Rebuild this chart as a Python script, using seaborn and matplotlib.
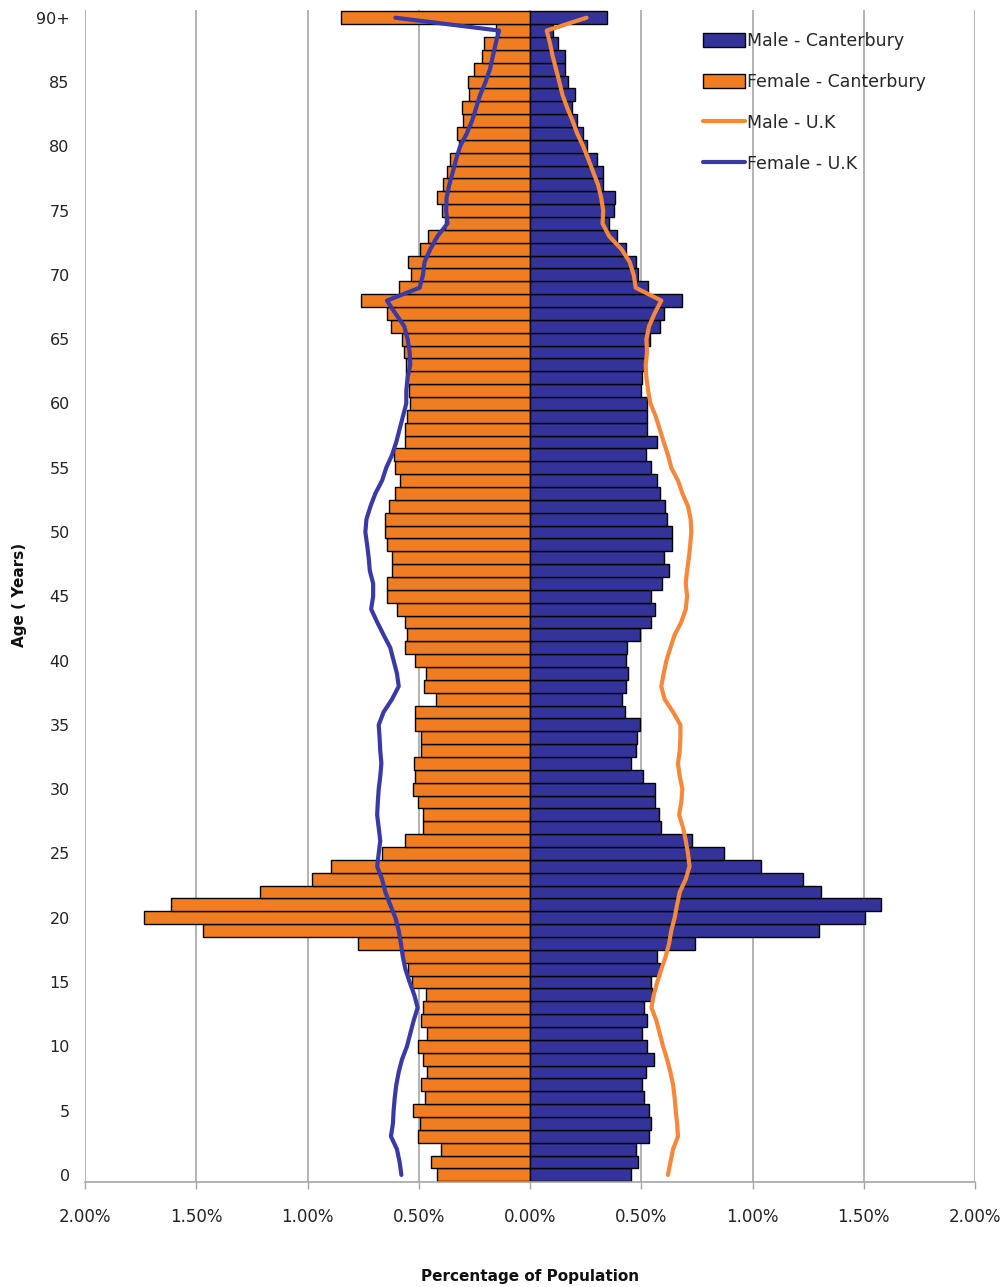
import numpy as np
import matplotlib
matplotlib.use("Agg")
import matplotlib.pyplot as plt
from matplotlib.patches import Patch
from matplotlib.lines import Line2D
import seaborn as sns

ages = list(range(0, 91))
ytick_labels = [str(a) for a in range(0, 90, 5)] + ["90+"]

female_canterbury = [
    0.419, 0.445, 0.400, 0.504, 0.496, 0.526, 0.474, 0.490, 0.463, 0.481,
    0.504, 0.463, 0.490, 0.481, 0.468, 0.530, 0.548, 0.569, 0.773, 1.471,
    1.733, 1.613, 1.213, 0.980, 0.894, 0.667, 0.560, 0.481, 0.481, 0.505,
    0.526, 0.519, 0.523, 0.490, 0.490, 0.516, 0.516, 0.423, 0.478, 0.468,
    0.516, 0.560, 0.553, 0.560, 0.598, 0.643, 0.643, 0.620, 0.620, 0.643,
    0.650, 0.650, 0.635, 0.605, 0.583, 0.605, 0.613, 0.560, 0.560, 0.553,
    0.538, 0.543, 0.556, 0.556, 0.568, 0.575, 0.623, 0.643, 0.759, 0.590,
    0.534, 0.549, 0.496, 0.459, 0.381, 0.396, 0.416, 0.389, 0.374, 0.359,
    0.321, 0.329, 0.302, 0.306, 0.272, 0.280, 0.251, 0.214, 0.206, 0.154,
    0.848]

male_canterbury = [
    0.456, 0.486, 0.475, 0.535, 0.543, 0.535, 0.513, 0.505, 0.520, 0.558,
    0.528, 0.505, 0.528, 0.513, 0.550, 0.543, 0.583, 0.572, 0.740, 1.300,
    1.504, 1.578, 1.307, 1.229, 1.038, 0.871, 0.730, 0.587, 0.580, 0.564,
    0.564, 0.508, 0.456, 0.475, 0.481, 0.493, 0.427, 0.413, 0.433, 0.441,
    0.433, 0.438, 0.493, 0.543, 0.564, 0.543, 0.593, 0.623, 0.602, 0.638,
    0.638, 0.616, 0.605, 0.586, 0.572, 0.543, 0.520, 0.572, 0.526, 0.526,
    0.526, 0.500, 0.504, 0.516, 0.520, 0.538, 0.583, 0.602, 0.683, 0.531,
    0.486, 0.475, 0.433, 0.389, 0.356, 0.378, 0.384, 0.326, 0.326, 0.299,
    0.254, 0.239, 0.212, 0.190, 0.202, 0.172, 0.157, 0.157, 0.124, 0.105,
    0.347]

female_uk = [
    0.578, 0.586, 0.598, 0.625, 0.616, 0.613, 0.608, 0.601, 0.590, 0.575,
    0.553, 0.538, 0.523, 0.505, 0.520, 0.541, 0.560, 0.572, 0.580, 0.590,
    0.605, 0.628, 0.650, 0.665, 0.687, 0.680, 0.673, 0.680, 0.687, 0.684,
    0.680, 0.673, 0.668, 0.673, 0.676, 0.680, 0.658, 0.620, 0.590, 0.598,
    0.613, 0.628, 0.658, 0.687, 0.714, 0.705, 0.705, 0.720, 0.725, 0.732,
    0.740, 0.735, 0.717, 0.695, 0.665, 0.646, 0.620, 0.601, 0.586, 0.571,
    0.556, 0.556, 0.550, 0.538, 0.541, 0.550, 0.565, 0.605, 0.643, 0.496,
    0.481, 0.474, 0.448, 0.416, 0.371, 0.377, 0.375, 0.363, 0.347, 0.332,
    0.314, 0.284, 0.260, 0.242, 0.224, 0.200, 0.180, 0.167, 0.154, 0.139,
    0.605]

male_uk = [
    0.620, 0.631, 0.643, 0.665, 0.661, 0.655, 0.650, 0.643, 0.631, 0.616,
    0.598, 0.583, 0.568, 0.546, 0.556, 0.572, 0.590, 0.610, 0.625, 0.635,
    0.650, 0.661, 0.673, 0.700, 0.717, 0.710, 0.700, 0.688, 0.670, 0.680,
    0.685, 0.673, 0.665, 0.673, 0.676, 0.676, 0.643, 0.605, 0.590, 0.601,
    0.613, 0.631, 0.650, 0.680, 0.700, 0.706, 0.700, 0.706, 0.714, 0.720,
    0.725, 0.722, 0.710, 0.685, 0.665, 0.635, 0.620, 0.601, 0.583, 0.565,
    0.541, 0.531, 0.523, 0.520, 0.526, 0.523, 0.535, 0.560, 0.590, 0.475,
    0.466, 0.448, 0.411, 0.356, 0.326, 0.329, 0.320, 0.306, 0.284, 0.262,
    0.239, 0.212, 0.191, 0.167, 0.146, 0.132, 0.117, 0.102, 0.090, 0.075,
    0.254]

series_labels = ["Male - Canterbury", "Female - Canterbury", "Male - U.K", "Female - U.K"]
x_ticks = [-2.0, -1.5, -1.0, -0.5, 0.0, 0.5, 1.0, 1.5, 2.0]

BAR_BLUE = "#333399"
BAR_ORANGE = "#F07D22"
LINE_ORANGE = "#F5883A"
LINE_BLUE = "#3A3AA6"
GRID = "#A6A6A6"

sns.set_style("white")
plt.rcParams["font.family"] = ["DejaVu Sans"]

fig = plt.figure(figsize=(10.08, 12.87), dpi=100)
ax = fig.add_axes([85 / 1008, 1 - 1182 / 1287, 890 / 1008, (1182 - 10) / 1287])

neg_female = [-v for v in female_canterbury]
neg_female_uk = [-v for v in female_uk]

sns.barplot(x=neg_female, y=ages, orient="h", native_scale=True, width=1.0,
            color=BAR_ORANGE, saturation=1, edgecolor="black", linewidth=1.0,
            errorbar=None, ax=ax, zorder=2)
sns.barplot(x=male_canterbury, y=ages, orient="h", native_scale=True, width=1.0,
            color=BAR_BLUE, saturation=1, edgecolor="black", linewidth=1.0,
            errorbar=None, ax=ax, zorder=2)
sns.lineplot(x=male_uk, y=ages, orient="y", sort=False, estimator=None,
             color=LINE_ORANGE, linewidth=3, ax=ax, zorder=3)
sns.lineplot(x=neg_female_uk, y=ages, orient="y", sort=False, estimator=None,
             color=LINE_BLUE, linewidth=3, ax=ax, zorder=3)

ax.set_xlim(-2, 2)
ax.set_ylim(-0.55, 90.6)
ax.set_xticks(x_ticks)
ax.set_xticklabels([f"{abs(v):.2f}%" for v in x_ticks])
ax.set_yticks(list(range(0, 91, 5)))
ax.set_yticklabels(ytick_labels)
ax.set_xlabel("")
ax.set_ylabel("")

ax.grid(axis="x", color=GRID, linewidth=1.2)
ax.grid(axis="y", visible=False)
ax.set_axisbelow(True)

for s in ["top", "right", "left"]:
    ax.spines[s].set_visible(False)
ax.spines["bottom"].set_color(GRID)
ax.spines["bottom"].set_linewidth(1.2)

ax.tick_params(axis="x", direction="out", length=5, width=1, color=GRID,
               pad=14, labelsize=12, labelcolor="#222222", bottom=True)
ax.tick_params(axis="y", length=0, pad=11, labelsize=11.5, labelcolor="#222222", left=True)

fig.text(530 / 1008, 1 - 1277 / 1287, "Percentage of Population", ha="center",
         va="center", fontsize=11, fontweight="bold", color="#111111")
fig.text(20 / 1008, 1 - 595 / 1287, "Age ( Years)", ha="center", va="center",
         rotation=90, fontsize=11, fontweight="bold", color="#111111")

handles = [
    Patch(facecolor=BAR_BLUE, edgecolor="black", linewidth=1.0),
    Patch(facecolor=BAR_ORANGE, edgecolor="black", linewidth=1.0),
    Line2D([0], [0], color=LINE_ORANGE, linewidth=3),
    Line2D([0], [0], color=LINE_BLUE, linewidth=3),
]
fig.legend(handles, series_labels, loc="upper left",
           bbox_to_anchor=(703 / 1008, 1 - 32 / 1287), frameon=False,
           fontsize=12.5, handlelength=2.4, handleheight=0.85, handletextpad=0.15,
           labelspacing=1.32, borderpad=0, borderaxespad=0)

fig.savefig("out.png", dpi=100)
